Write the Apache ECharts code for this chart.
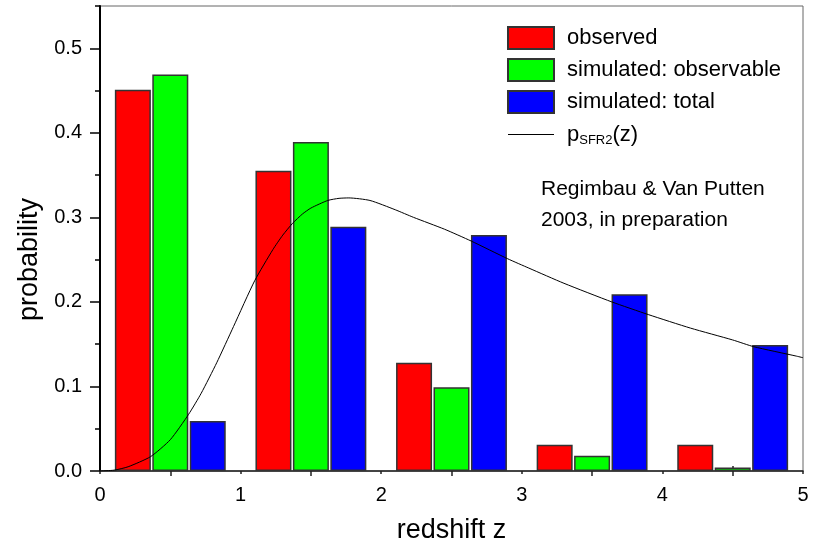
<!DOCTYPE html>
<html>
<head>
<meta charset="utf-8">
<script src="https://cdn.jsdelivr.net/npm/echarts@6/dist/echarts.min.js"></script>
<style>
  html, body { margin: 0; padding: 0; background: #fff; }
  #chart { width: 819px; height: 549px; }
</style>
</head>
<body>
<div id="chart"></div>
<script>
// redshift bins, one group of bars per unit of z
const bins = ['0-1', '1-2', '2-3', '3-4', '4-5'];
const observed = [0.451, 0.355, 0.128, 0.031, 0.031];
const simObservable = [0.469, 0.389, 0.099, 0.018, 0.004];
const simTotal = [0.059, 0.289, 0.279, 0.209, 0.149];

// p_SFR2(z)
const zCurve = [0, 0.1, 0.2, 0.36, 0.5, 0.63, 0.72, 0.83, 0.95, 1.1, 1.23, 1.3, 1.37, 1.44, 1.5, 1.62, 1.7, 1.77,
  1.92, 2.1, 2.23, 2.45, 2.64, 2.9, 3.05, 3.3, 3.64, 3.9, 4.2, 4.5, 4.65, 4.95, 5.0];
const pCurve = [0, 0.001, 0.005, 0.017, 0.037, 0.067, 0.092, 0.128, 0.171, 0.225, 0.262, 0.279, 0.293, 0.304, 0.311, 0.32, 0.3225, 0.323,
  0.32, 0.309, 0.3, 0.286, 0.272, 0.251, 0.24, 0.222, 0.2, 0.185, 0.169, 0.155, 0.147, 0.136, 0.134];

const yMajor = [0, 0.1, 0.2, 0.3, 0.4, 0.5];

const font = "'Liberation Sans', Arial, sans-serif";
const chart = echarts.init(document.getElementById('chart'));

const barStyle = function (c) {
  return { color: c, borderColor: '#333', borderWidth: 1.5 };
};

chart.setOption({
  animation: false,
  textStyle: { fontFamily: font, color: '#000' },
  grid: { left: 100, right: 16, top: 6, bottom: 73, show: true, borderColor: '#666', borderWidth: 1 },
  legend: {
    orient: 'vertical',
    left: 507,
    top: 26,
    padding: 0,
    itemWidth: 46,
    itemHeight: 22,
    itemGap: 8,
    data: [
      { name: 'observed', icon: 'rect' },
      { name: 'simulated: observable', icon: 'rect' },
      { name: 'simulated: total', icon: 'rect' },
      // plain thin line for the curve entry
      { name: 'pSFR2', icon: 'path://M0,0L100,0L100,2.2L0,2.2Z' }
    ],
    formatter: function (name) {
      return name === 'pSFR2' ? '{n|p}{s|SFR2}{n|(z)}' : name;
    },
    textStyle: {
      fontFamily: font, fontSize: 22, color: '#000', lineHeight: 22, padding: [0, 0, 0, 8],
      rich: {
        n: { fontFamily: font, fontSize: 22, color: '#000', lineHeight: 22 },
        s: { fontFamily: font, fontSize: 13, color: '#000', lineHeight: 22, padding: [12, 0, 0, 0] }
      }
    }
  },
  graphic: [{
    type: 'text',
    left: 541,
    top: 174,
    style: {
      text: 'Regimbau & Van Putten\n2003, in preparation',
      fontFamily: font, fontSize: 21, lineHeight: 31, fill: '#000'
    }
  }],
  xAxis: [
    {
      type: 'value', min: 0, max: 5, interval: 1, position: 'bottom',
      name: 'redshift z', nameLocation: 'middle', nameGap: 46,
      nameTextStyle: { fontFamily: font, fontSize: 27, color: '#000' },
      axisLine: { lineStyle: { color: '#222', width: 1.5 } },
      axisTick: { length: 3, lineStyle: { color: '#222', width: 1.5 } },
      minorTick: { show: true, splitNumber: 2, length: 5, lineStyle: { color: '#222', width: 1.5 } },
      axisLabel: { fontFamily: font, fontSize: 20, color: '#000', margin: 14 },
      splitLine: { show: false }
    },
    {
      // inner half of the ticks at the bin centres
      type: 'value', min: 0, max: 5, interval: 1, position: 'bottom',
      axisLine: { show: false },
      axisTick: { show: false, inside: true },
      minorTick: { show: true, splitNumber: 2, length: 5, lineStyle: { color: '#222', width: 1.5 } },
      axisLabel: { show: false },
      splitLine: { show: false }
    },
    {
      type: 'category', data: bins, show: false
    }
  ],
  yAxis: [
    {
      type: 'value', min: 0, max: 0.55, interval: 0.05, position: 'left',
      name: 'probability', nameLocation: 'middle', nameGap: 52,
      nameTextStyle: { fontFamily: font, fontSize: 27, color: '#000', padding: [0, 42, 0, 0] },
      axisLine: { lineStyle: { color: '#000', width: 2 } },
      axisTick: { length: 5, lineStyle: { color: '#000', width: 1.5 } },
      axisLabel: {
        fontFamily: font, fontSize: 20, color: '#000', margin: 18,
        formatter: function (v) {
          const k = Math.round(v * 100);
          return k % 10 === 0 ? (v).toFixed(1) : '';
        }
      },
      splitLine: { show: false }
    },
    {
      type: 'value', min: 0, max: 0.55, position: 'left',
      axisLine: { show: false },
      axisTick: { show: true, length: 10, customValues: yMajor, lineStyle: { color: '#000', width: 1.5 } },
      axisLabel: { show: false },
      splitLine: { show: false }
    }
  ],
  series: [
    {
      name: 'observed', type: 'bar', xAxisIndex: 2, yAxisIndex: 0,
      barWidth: 36, barGap: '4%', data: observed, itemStyle: barStyle('#ff0000')
    },
    {
      name: 'simulated: observable', type: 'bar', xAxisIndex: 2, yAxisIndex: 0,
      barWidth: 36, barGap: '4%', data: simObservable, itemStyle: barStyle('#00ff00')
    },
    {
      name: 'simulated: total', type: 'bar', xAxisIndex: 2, yAxisIndex: 0,
      barWidth: 36, barGap: '4%', data: simTotal, itemStyle: barStyle('#0000ff')
    },
    {
      name: 'pSFR2', type: 'line', xAxisIndex: 0, yAxisIndex: 0,
      data: zCurve.map(function (z, i) { return [z, pCurve[i]]; }),
      symbol: 'none', smooth: 0.2,
      lineStyle: { color: '#000', width: 1 }, itemStyle: { color: '#000' }
    }
  ]
});
</script>
</body>
</html>
